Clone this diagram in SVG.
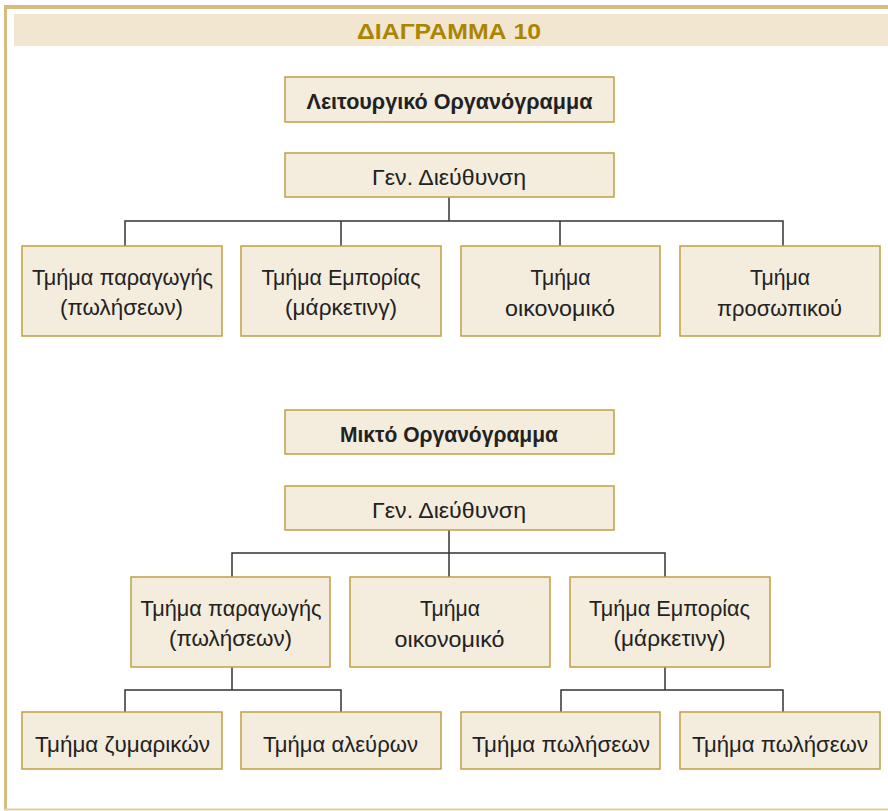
<svg xmlns="http://www.w3.org/2000/svg" width="888" height="811" viewBox="0 0 888 811">
  <style>
    .box { fill: #f4ecdd; stroke: #c1a043; stroke-width: 1.5; }
    .t { font-family: "Liberation Sans", Arial, sans-serif; font-size: 22.5px; fill: #222; text-anchor: middle; }
    .b { font-weight: bold; font-size: 22px; }
    .title { font-family: "Liberation Sans", Arial, sans-serif; font-size: 22px; font-weight: bold; fill: #ab8500; text-anchor: middle; }
    .conn { stroke: #333; stroke-width: 1.5; fill: none; }
  </style>
  <rect x="0" y="0" width="888" height="811" fill="#ffffff"/>
  <g id="frame">
    <line x1="4" y1="7" x2="888" y2="7" stroke="#d7bc7e" stroke-width="4"/>
    <line x1="5.5" y1="5" x2="5.5" y2="810" stroke="#d7bc7e" stroke-width="3"/>
    <line x1="4" y1="809.5" x2="888" y2="809.5" stroke="#e2cf9c" stroke-width="2"/>
    <rect x="14" y="14" width="874" height="32" fill="#f2e6d0"/>
    <text class="title" x="449" y="39" textLength="184" lengthAdjust="spacingAndGlyphs">ΔΙΑΓΡΑΜΜΑ 10</text>
  </g>
  <g id="connectors">
    <path class="conn" d="M449 197 V221 M125 246 V221 H783 V246 M341 221 V246 M560 221 V246"/>
    <path class="conn" d="M449 530 V553 M232 577 V553 H665 V577 M449 553 V577"/>
    <path class="conn" d="M232 667 V690 M125 712 V690 H341 V712"/>
    <path class="conn" d="M665 667 V690 M561 712 V690 H783 V712"/>
  </g>
  <g id="n_leit">
    <rect class="box" x="285" y="77" width="329" height="45"/>
    <text class="t b" x="449.5" y="109" textLength="286" lengthAdjust="spacingAndGlyphs">Λειτουργικό Οργανόγραμμα</text>
  </g>
  <g id="n_gen1">
    <rect class="box" x="285" y="153" width="329" height="44"/>
    <text class="t" x="449" y="185" textLength="154" lengthAdjust="spacingAndGlyphs">Γεν. Διεύθυνση</text>
  </g>
  <g id="n_par1">
    <rect class="box" x="22" y="246" width="200" height="90"/>
    <text class="t" x="122.5" y="285" textLength="181" lengthAdjust="spacingAndGlyphs">Τμήμα παραγωγής</text>
    <text class="t" x="121.5" y="315" textLength="123" lengthAdjust="spacingAndGlyphs">(πωλήσεων)</text>
  </g>
  <g id="n_emp1">
    <rect class="box" x="241" y="246" width="200" height="90"/>
    <text class="t" x="341" y="285" textLength="159" lengthAdjust="spacingAndGlyphs">Τμήμα Εμπορίας</text>
    <text class="t" x="341" y="315" textLength="112" lengthAdjust="spacingAndGlyphs">(μάρκετινγ)</text>
  </g>
  <g id="n_oik1">
    <rect class="box" x="461" y="246" width="199" height="90"/>
    <text class="t" x="560.5" y="285" textLength="60" lengthAdjust="spacingAndGlyphs">Τμήμα</text>
    <text class="t" x="560" y="316" textLength="110" lengthAdjust="spacingAndGlyphs">οικονομικό</text>
  </g>
  <g id="n_pros1">
    <rect class="box" x="680" y="246" width="200" height="90"/>
    <text class="t" x="780" y="285" textLength="60" lengthAdjust="spacingAndGlyphs">Τμήμα</text>
    <text class="t" x="779.5" y="316" textLength="125" lengthAdjust="spacingAndGlyphs">προσωπικού</text>
  </g>
  <g id="n_mikto">
    <rect class="box" x="285" y="410" width="329" height="44"/>
    <text class="t b" x="449" y="442" textLength="218" lengthAdjust="spacingAndGlyphs">Μικτό Οργανόγραμμα</text>
  </g>
  <g id="n_gen2">
    <rect class="box" x="285" y="486" width="329" height="44"/>
    <text class="t" x="449" y="518" textLength="154" lengthAdjust="spacingAndGlyphs">Γεν. Διεύθυνση</text>
  </g>
  <g id="n_par2">
    <rect class="box" x="131" y="577" width="199" height="90"/>
    <text class="t" x="231" y="616" textLength="181" lengthAdjust="spacingAndGlyphs">Τμήμα παραγωγής</text>
    <text class="t" x="230.5" y="646" textLength="123" lengthAdjust="spacingAndGlyphs">(πωλήσεων)</text>
  </g>
  <g id="n_oik2">
    <rect class="box" x="350" y="577" width="200" height="90"/>
    <text class="t" x="450" y="616" textLength="60" lengthAdjust="spacingAndGlyphs">Τμήμα</text>
    <text class="t" x="449.5" y="647" textLength="110" lengthAdjust="spacingAndGlyphs">οικονομικό</text>
  </g>
  <g id="n_emp2">
    <rect class="box" x="570" y="577" width="200" height="90"/>
    <text class="t" x="669.5" y="616" textLength="161" lengthAdjust="spacingAndGlyphs">Τμήμα Εμπορίας</text>
    <text class="t" x="669.5" y="646" textLength="112" lengthAdjust="spacingAndGlyphs">(μάρκετινγ)</text>
  </g>
  <g id="n_zym">
    <rect class="box" x="22" y="712" width="200" height="57"/>
    <text class="t" x="122.5" y="752" textLength="175" lengthAdjust="spacingAndGlyphs">Τμήμα ζυμαρικών</text>
  </g>
  <g id="n_ale">
    <rect class="box" x="241" y="712" width="200" height="57"/>
    <text class="t" x="340.5" y="752" textLength="155" lengthAdjust="spacingAndGlyphs">Τμήμα αλεύρων</text>
  </g>
  <g id="n_pol1">
    <rect class="box" x="461" y="712" width="199" height="57"/>
    <text class="t" x="561" y="752" textLength="178" lengthAdjust="spacingAndGlyphs">Τμήμα πωλήσεων</text>
  </g>
  <g id="n_pol2">
    <rect class="box" x="680" y="712" width="200" height="57"/>
    <text class="t" x="780" y="752" textLength="176" lengthAdjust="spacingAndGlyphs">Τμήμα πωλήσεων</text>
  </g>
</svg>
